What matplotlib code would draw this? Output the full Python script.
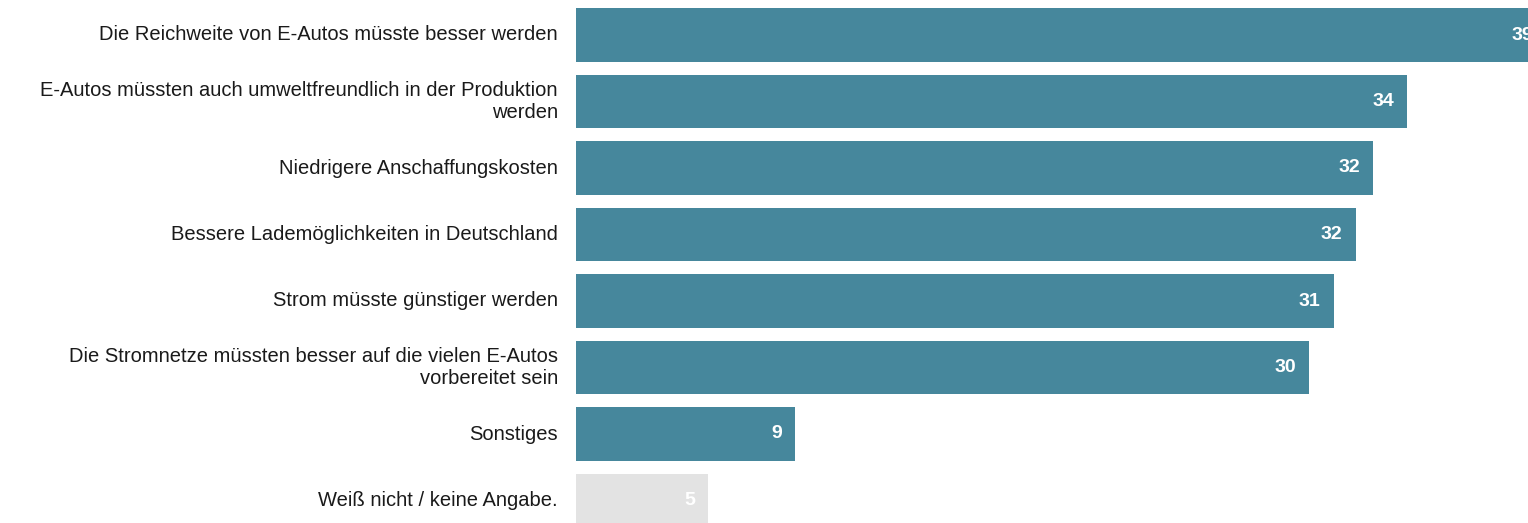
import matplotlib
matplotlib.use("Agg")
import matplotlib.pyplot as plt

# Data
categories = [
    "Die Reichweite von E-Autos müsste besser werden",
    "E-Autos müssten auch umweltfreundlich in der Produktion\nwerden",
    "Niedrigere Anschaffungskosten",
    "Bessere Lademöglichkeiten in Deutschland",
    "Strom müsste günstiger werden",
    "Die Stromnetze müssten besser auf die vielen E-Autos\nvorbereitet sein",
    "Sonstiges",
    "Weiß nicht / keine Angabe.",
]
values = [39.7, 34.0, 32.6, 31.9, 31.0, 30.0, 8.96, 5.4]
value_labels = ["39", "34", "32", "32", "31", "30", "9", "5"]
colors = ["#46879c"] * 7 + ["#e3e3e3"]

plt.rcParams["font.family"] = ["Liberation Sans", "DejaVu Sans"]

fig = plt.figure(figsize=(15.28, 5.23), dpi=100)
ax = fig.add_axes([576 / 1528, 0, 952 / 1528, 1])

ypos = list(range(len(categories)))
ax.barh(ypos, values, height=0.81, color=colors)

ax.set_xlim(0, 952 / 24.44)
ax.set_ylim((523 - 35) / 66.5, -35 / 66.5)

# value labels inside the bars
for y, v, lab in zip(ypos, values, value_labels):
    ax.annotate(lab, (v, y), xytext=(-9.4, 0), textcoords="offset points",
                ha="right", va="center", color="white", fontsize=14,
                fontweight="bold", annotation_clip=False)

# category labels on the left
for y, cat in zip(ypos, categories):
    ax.annotate(cat, (0, y), xytext=(-13, 0), textcoords="offset points",
                ha="right", va="center", color="#1a1a1a", fontsize=14.5,
                linespacing=1.2, annotation_clip=False)

ax.set_xticks([])
ax.set_yticks([])
for s in ax.spines.values():
    s.set_visible(False)

fig.savefig("out.png", dpi=100)
